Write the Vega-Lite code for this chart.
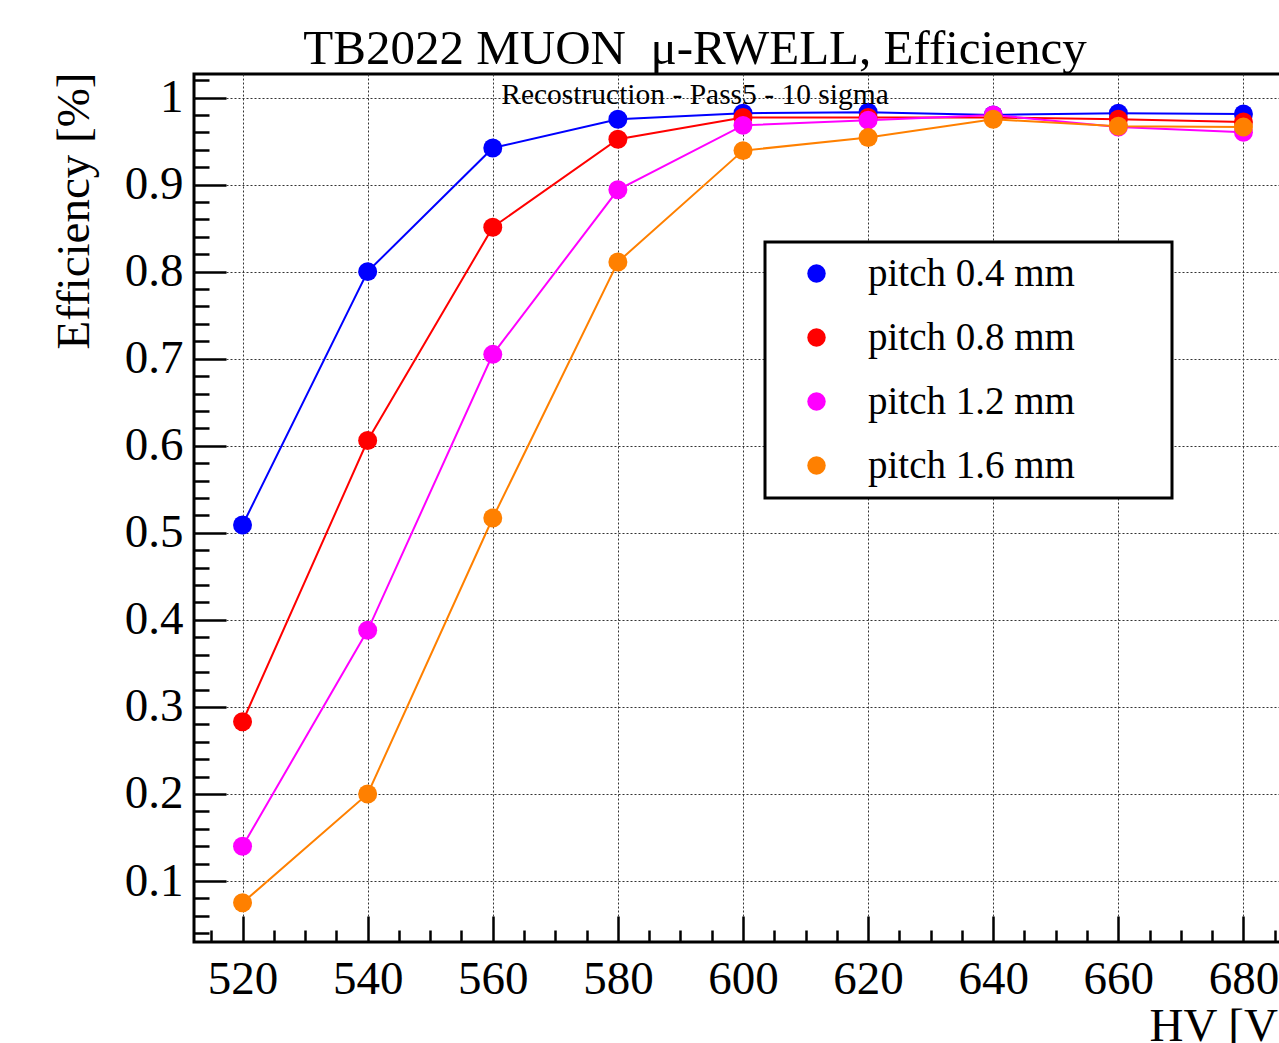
{
  "$schema": "https://vega.github.io/schema/vega-lite/v6.json",
  "width": 1112,
  "height": 868,
  "autosize": {"type": "none"},
  "padding": {"left": 194, "top": 74, "right": 0, "bottom": 101},
  "background": "white",
  "config": {
    "font": "Liberation Serif",
    "view": {"stroke": "black", "strokeWidth": 3},
    "legend": {"strokeWidth": 3},
    "axis": {
      "domain": false,
      "labelFont": "Liberation Serif",
      "titleFont": "Liberation Serif",
      "titleFontWeight": "normal",
      "labelColor": "black",
      "titleColor": "black",
      "tickColor": "black",
      "tickWidth": 2.5,
      "labelFlush": false,
      "labelOverlap": false
    }
  },
  "title": {
    "text": "TB2022 MUON\u00a0 μ-RWELL, Efficiency",
    "subtitle": "Recostruction - Pass5 - 10 sigma",
    "fontSize": 49,
    "subtitleFontSize": 29.5,
    "font": "Liberation Serif",
    "subtitleFont": "Liberation Serif",
    "fontWeight": "normal",
    "color": "black",
    "subtitleColor": "black",
    "anchor": "middle",
    "frame": "group",
    "dx": -55,
    "offset": -37,
    "subtitlePadding": 7
  },
  "data": {
    "values": [
      {"hv": 520, "eff": 0.509, "pitch": "pitch 0.4 mm"},
      {"hv": 540, "eff": 0.800, "pitch": "pitch 0.4 mm"},
      {"hv": 560, "eff": 0.942, "pitch": "pitch 0.4 mm"},
      {"hv": 580, "eff": 0.975, "pitch": "pitch 0.4 mm"},
      {"hv": 600, "eff": 0.982, "pitch": "pitch 0.4 mm"},
      {"hv": 620, "eff": 0.983, "pitch": "pitch 0.4 mm"},
      {"hv": 640, "eff": 0.980, "pitch": "pitch 0.4 mm"},
      {"hv": 660, "eff": 0.982, "pitch": "pitch 0.4 mm"},
      {"hv": 680, "eff": 0.981, "pitch": "pitch 0.4 mm"},
      {"hv": 520, "eff": 0.283, "pitch": "pitch 0.8 mm"},
      {"hv": 540, "eff": 0.606, "pitch": "pitch 0.8 mm"},
      {"hv": 560, "eff": 0.851, "pitch": "pitch 0.8 mm"},
      {"hv": 580, "eff": 0.952, "pitch": "pitch 0.8 mm"},
      {"hv": 600, "eff": 0.977, "pitch": "pitch 0.8 mm"},
      {"hv": 620, "eff": 0.977, "pitch": "pitch 0.8 mm"},
      {"hv": 640, "eff": 0.977, "pitch": "pitch 0.8 mm"},
      {"hv": 660, "eff": 0.975, "pitch": "pitch 0.8 mm"},
      {"hv": 680, "eff": 0.972, "pitch": "pitch 0.8 mm"},
      {"hv": 520, "eff": 0.140, "pitch": "pitch 1.2 mm"},
      {"hv": 540, "eff": 0.388, "pitch": "pitch 1.2 mm"},
      {"hv": 560, "eff": 0.705, "pitch": "pitch 1.2 mm"},
      {"hv": 580, "eff": 0.894, "pitch": "pitch 1.2 mm"},
      {"hv": 600, "eff": 0.968, "pitch": "pitch 1.2 mm"},
      {"hv": 620, "eff": 0.974, "pitch": "pitch 1.2 mm"},
      {"hv": 640, "eff": 0.980, "pitch": "pitch 1.2 mm"},
      {"hv": 660, "eff": 0.966, "pitch": "pitch 1.2 mm"},
      {"hv": 680, "eff": 0.960, "pitch": "pitch 1.2 mm"},
      {"hv": 520, "eff": 0.075, "pitch": "pitch 1.6 mm"},
      {"hv": 540, "eff": 0.200, "pitch": "pitch 1.6 mm"},
      {"hv": 560, "eff": 0.517, "pitch": "pitch 1.6 mm"},
      {"hv": 580, "eff": 0.811, "pitch": "pitch 1.6 mm"},
      {"hv": 600, "eff": 0.939, "pitch": "pitch 1.6 mm"},
      {"hv": 620, "eff": 0.954, "pitch": "pitch 1.6 mm"},
      {"hv": 640, "eff": 0.975, "pitch": "pitch 1.6 mm"},
      {"hv": 660, "eff": 0.967, "pitch": "pitch 1.6 mm"},
      {"hv": 680, "eff": 0.966, "pitch": "pitch 1.6 mm"}
    ]
  },
  "encoding": {
    "color": {
      "field": "pitch",
      "type": "nominal",
      "scale": {
        "domain": ["pitch 0.4 mm", "pitch 0.8 mm", "pitch 1.2 mm", "pitch 1.6 mm"],
        "range": ["#0000ff", "#ff0000", "#ff00ff", "#ff8000"]
      },
      "legend": {
        "orient": "none",
        "legendX": 571,
        "legendY": 168,
        "title": "MMM",
        "titleOrient": "right",
        "titleFontSize": 30,
        "titleFont": "Liberation Serif",
        "titleOpacity": 0,
        "titlePadding": 0,
        "symbolType": "circle",
        "symbolSize": 340,
        "symbolStrokeWidth": 0,
        "symbolOpacity": 1,
        "labelFontSize": 39,
        "labelFont": "Liberation Serif",
        "labelColor": "black",
        "labelLimit": 0,
        "rowPadding": 24,
        "padding": 12,
        "symbolOffset": 20,
        "labelOffset": 32,
        "strokeColor": "black",
        "fillColor": "white"
      }
    }
  },
  "layer": [
    {
      "mark": {"type": "line", "strokeWidth": 2},
      "encoding": {
        "x": {
          "field": "hv",
          "type": "quantitative",
          "scale": {"domain": [512.24, 690], "nice": false, "zero": false},
          "axis": {
            "orient": "bottom",
            "values": [520, 540, 560, 580, 600, 620, 640, 660, 680],
            "tickSize": -26,
            "labelPadding": 77,
            "labelBaseline": "alphabetic",
            "labelFontSize": 47,
            "grid": true,
            "gridDash": [2, 2],
            "gridColor": "#333333",
            "gridWidth": 1,
            "title": "HV [V]",
            "titleFontSize": 47,
            "titleAlign": "left",
            "titleBaseline": "alphabetic",
            "titleX": 955,
            "titleY": 98
          }
        },
        "y": {
          "field": "eff",
          "type": "quantitative",
          "scale": {"domain": [0.03, 1.027], "nice": false, "zero": false},
          "axis": {
            "orient": "left",
            "values": [0.1, 0.2, 0.3, 0.4, 0.5, 0.6, 0.7, 0.8, 0.9, 1.0],
            "labelExpr": "toString(round(datum.value * 10) / 10)",
            "tickSize": -32,
            "labelPadding": 43,
            "labelFontSize": 47,
            "grid": true,
            "gridDash": [2, 2],
            "gridColor": "#333333",
            "gridWidth": 1,
            "title": "Efficiency [%]",
            "titleFontSize": 47,
            "titleAngle": -90,
            "titleAlign": "right",
            "titleBaseline": "alphabetic",
            "titleX": -106,
            "titleY": -2
          }
        }
      }
    },
    {
      "mark": {"type": "point", "filled": true, "size": 360, "opacity": 1, "shape": "circle"},
      "encoding": {
        "x": {
          "field": "hv",
          "type": "quantitative",
          "axis": {
            "orient": "bottom",
            "values": [515, 525, 530, 535, 545, 550, 555, 565, 570, 575, 585, 590, 595, 605, 610, 615, 625, 630, 635, 645, 650, 655, 665, 670, 675, 685],
            "tickSize": -12,
            "labels": false,
            "grid": false,
            "title": null
          }
        },
        "y": {
          "field": "eff",
          "type": "quantitative",
          "axis": {
            "orient": "left",
            "values": [0.04, 0.06, 0.08, 0.12, 0.14, 0.16, 0.18, 0.22, 0.24, 0.26, 0.28, 0.32, 0.34, 0.36, 0.38, 0.42, 0.44, 0.46, 0.48, 0.52, 0.54, 0.56, 0.58, 0.62, 0.64, 0.66, 0.68, 0.72, 0.74, 0.76, 0.78, 0.82, 0.84, 0.86, 0.88, 0.92, 0.94, 0.96, 0.98, 1.02],
            "tickSize": -15,
            "labels": false,
            "grid": false,
            "title": null
          }
        }
      }
    }
  ],
  "resolve": {"axis": {"x": "independent", "y": "independent"}}
}
